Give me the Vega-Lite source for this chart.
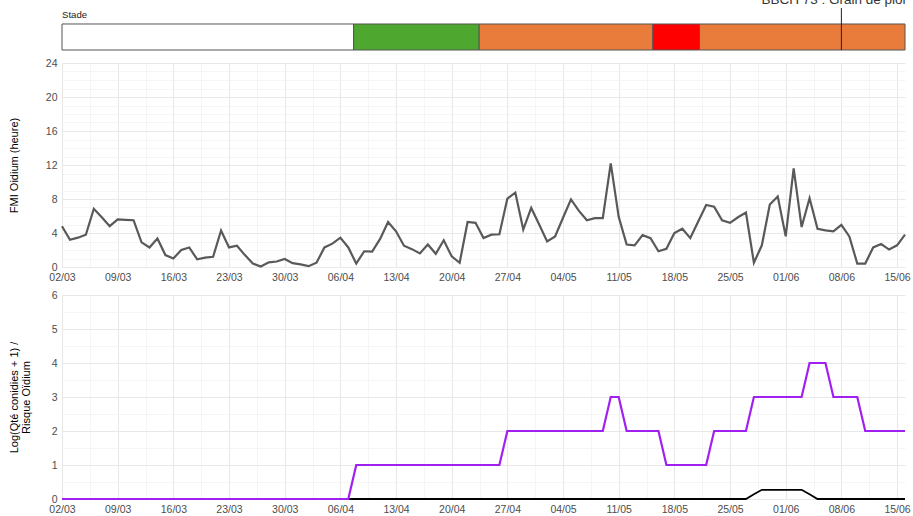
{
  "$schema": "https://vega.github.io/schema/vega-lite/v6.json",
  "padding": {"left": 8, "top": 0, "right": 2, "bottom": 3},
  "autosize": {"type": "pad"},
  "spacing": 7,
  "config": {
    "font": "Liberation Sans",
    "view": {"stroke": null},
    "axis": {
      "domain": false,
      "ticks": false,
      "labelFont": "Liberation Sans",
      "labelFontSize": 10.5,
      "labelColor": "#4D4D4D",
      "labelFlush": false,
      "labelOverlap": false,
      "labelBound": false,
      "labelPadding": 5,
      "titleFont": "Liberation Sans",
      "titleFontWeight": "normal",
      "titleColor": "#000000"
    }
  },
  "datasets": {
    "jours": [
      {"date": "2023-03-02", "fmi": 4.8, "risque": 0, "conidies": 0},
      {"date": "2023-03-03", "fmi": 3.2, "risque": 0, "conidies": 0},
      {"date": "2023-03-04", "fmi": 3.45, "risque": 0, "conidies": 0},
      {"date": "2023-03-05", "fmi": 3.8, "risque": 0, "conidies": 0},
      {"date": "2023-03-06", "fmi": 6.85, "risque": 0, "conidies": 0},
      {"date": "2023-03-07", "fmi": 5.85, "risque": 0, "conidies": 0},
      {"date": "2023-03-08", "fmi": 4.8, "risque": 0, "conidies": 0},
      {"date": "2023-03-09", "fmi": 5.6, "risque": 0, "conidies": 0},
      {"date": "2023-03-10", "fmi": 5.55, "risque": 0, "conidies": 0},
      {"date": "2023-03-11", "fmi": 5.5, "risque": 0, "conidies": 0},
      {"date": "2023-03-12", "fmi": 2.9, "risque": 0, "conidies": 0},
      {"date": "2023-03-13", "fmi": 2.3, "risque": 0, "conidies": 0},
      {"date": "2023-03-14", "fmi": 3.35, "risque": 0, "conidies": 0},
      {"date": "2023-03-15", "fmi": 1.4, "risque": 0, "conidies": 0},
      {"date": "2023-03-16", "fmi": 1.0, "risque": 0, "conidies": 0},
      {"date": "2023-03-17", "fmi": 2.0, "risque": 0, "conidies": 0},
      {"date": "2023-03-18", "fmi": 2.3, "risque": 0, "conidies": 0},
      {"date": "2023-03-19", "fmi": 0.9, "risque": 0, "conidies": 0},
      {"date": "2023-03-20", "fmi": 1.1, "risque": 0, "conidies": 0},
      {"date": "2023-03-21", "fmi": 1.2, "risque": 0, "conidies": 0},
      {"date": "2023-03-22", "fmi": 4.3, "risque": 0, "conidies": 0},
      {"date": "2023-03-23", "fmi": 2.3, "risque": 0, "conidies": 0},
      {"date": "2023-03-24", "fmi": 2.5, "risque": 0, "conidies": 0},
      {"date": "2023-03-25", "fmi": 1.4, "risque": 0, "conidies": 0},
      {"date": "2023-03-26", "fmi": 0.4, "risque": 0, "conidies": 0},
      {"date": "2023-03-27", "fmi": 0.05, "risque": 0, "conidies": 0},
      {"date": "2023-03-28", "fmi": 0.55, "risque": 0, "conidies": 0},
      {"date": "2023-03-29", "fmi": 0.65, "risque": 0, "conidies": 0},
      {"date": "2023-03-30", "fmi": 0.95, "risque": 0, "conidies": 0},
      {"date": "2023-03-31", "fmi": 0.45, "risque": 0, "conidies": 0},
      {"date": "2023-04-01", "fmi": 0.3, "risque": 0, "conidies": 0},
      {"date": "2023-04-02", "fmi": 0.1, "risque": 0, "conidies": 0},
      {"date": "2023-04-03", "fmi": 0.5, "risque": 0, "conidies": 0},
      {"date": "2023-04-04", "fmi": 2.3, "risque": 0, "conidies": 0},
      {"date": "2023-04-05", "fmi": 2.75, "risque": 0, "conidies": 0},
      {"date": "2023-04-06", "fmi": 3.45, "risque": 0, "conidies": 0},
      {"date": "2023-04-07", "fmi": 2.3, "risque": 0, "conidies": 0},
      {"date": "2023-04-08", "fmi": 0.4, "risque": 1, "conidies": 0},
      {"date": "2023-04-09", "fmi": 1.85, "risque": 1, "conidies": 0},
      {"date": "2023-04-10", "fmi": 1.8, "risque": 1, "conidies": 0},
      {"date": "2023-04-11", "fmi": 3.3, "risque": 1, "conidies": 0},
      {"date": "2023-04-12", "fmi": 5.3, "risque": 1, "conidies": 0},
      {"date": "2023-04-13", "fmi": 4.2, "risque": 1, "conidies": 0},
      {"date": "2023-04-14", "fmi": 2.5, "risque": 1, "conidies": 0},
      {"date": "2023-04-15", "fmi": 2.1, "risque": 1, "conidies": 0},
      {"date": "2023-04-16", "fmi": 1.6, "risque": 1, "conidies": 0},
      {"date": "2023-04-17", "fmi": 2.65, "risque": 1, "conidies": 0},
      {"date": "2023-04-18", "fmi": 1.55, "risque": 1, "conidies": 0},
      {"date": "2023-04-19", "fmi": 3.15, "risque": 1, "conidies": 0},
      {"date": "2023-04-20", "fmi": 1.25, "risque": 1, "conidies": 0},
      {"date": "2023-04-21", "fmi": 0.5, "risque": 1, "conidies": 0},
      {"date": "2023-04-22", "fmi": 5.3, "risque": 1, "conidies": 0},
      {"date": "2023-04-23", "fmi": 5.2, "risque": 1, "conidies": 0},
      {"date": "2023-04-24", "fmi": 3.4, "risque": 1, "conidies": 0},
      {"date": "2023-04-25", "fmi": 3.8, "risque": 1, "conidies": 0},
      {"date": "2023-04-26", "fmi": 3.85, "risque": 1, "conidies": 0},
      {"date": "2023-04-27", "fmi": 8.05, "risque": 2, "conidies": 0},
      {"date": "2023-04-28", "fmi": 8.75, "risque": 2, "conidies": 0},
      {"date": "2023-04-29", "fmi": 4.4, "risque": 2, "conidies": 0},
      {"date": "2023-04-30", "fmi": 6.95, "risque": 2, "conidies": 0},
      {"date": "2023-05-01", "fmi": 5.0, "risque": 2, "conidies": 0},
      {"date": "2023-05-02", "fmi": 3.0, "risque": 2, "conidies": 0},
      {"date": "2023-05-03", "fmi": 3.6, "risque": 2, "conidies": 0},
      {"date": "2023-05-04", "fmi": 5.8, "risque": 2, "conidies": 0},
      {"date": "2023-05-05", "fmi": 7.95, "risque": 2, "conidies": 0},
      {"date": "2023-05-06", "fmi": 6.6, "risque": 2, "conidies": 0},
      {"date": "2023-05-07", "fmi": 5.5, "risque": 2, "conidies": 0},
      {"date": "2023-05-08", "fmi": 5.75, "risque": 2, "conidies": 0},
      {"date": "2023-05-09", "fmi": 5.75, "risque": 2, "conidies": 0},
      {"date": "2023-05-10", "fmi": 12.2, "risque": 3, "conidies": 0},
      {"date": "2023-05-11", "fmi": 5.9, "risque": 3, "conidies": 0},
      {"date": "2023-05-12", "fmi": 2.65, "risque": 2, "conidies": 0},
      {"date": "2023-05-13", "fmi": 2.55, "risque": 2, "conidies": 0},
      {"date": "2023-05-14", "fmi": 3.75, "risque": 2, "conidies": 0},
      {"date": "2023-05-15", "fmi": 3.4, "risque": 2, "conidies": 0},
      {"date": "2023-05-16", "fmi": 1.85, "risque": 2, "conidies": 0},
      {"date": "2023-05-17", "fmi": 2.15, "risque": 1, "conidies": 0},
      {"date": "2023-05-18", "fmi": 4.0, "risque": 1, "conidies": 0},
      {"date": "2023-05-19", "fmi": 4.5, "risque": 1, "conidies": 0},
      {"date": "2023-05-20", "fmi": 3.4, "risque": 1, "conidies": 0},
      {"date": "2023-05-21", "fmi": 5.35, "risque": 1, "conidies": 0},
      {"date": "2023-05-22", "fmi": 7.3, "risque": 1, "conidies": 0},
      {"date": "2023-05-23", "fmi": 7.1, "risque": 2, "conidies": 0},
      {"date": "2023-05-24", "fmi": 5.5, "risque": 2, "conidies": 0},
      {"date": "2023-05-25", "fmi": 5.2, "risque": 2, "conidies": 0},
      {"date": "2023-05-26", "fmi": 5.85, "risque": 2, "conidies": 0},
      {"date": "2023-05-27", "fmi": 6.4, "risque": 2, "conidies": 0},
      {"date": "2023-05-28", "fmi": 0.5, "risque": 3, "conidies": 0.14},
      {"date": "2023-05-29", "fmi": 2.55, "risque": 3, "conidies": 0.27},
      {"date": "2023-05-30", "fmi": 7.35, "risque": 3, "conidies": 0.27},
      {"date": "2023-05-31", "fmi": 8.3, "risque": 3, "conidies": 0.27},
      {"date": "2023-06-01", "fmi": 3.6, "risque": 3, "conidies": 0.27},
      {"date": "2023-06-02", "fmi": 11.6, "risque": 3, "conidies": 0.27},
      {"date": "2023-06-03", "fmi": 4.7, "risque": 3, "conidies": 0.27},
      {"date": "2023-06-04", "fmi": 8.1, "risque": 4, "conidies": 0.14},
      {"date": "2023-06-05", "fmi": 4.5, "risque": 4, "conidies": 0},
      {"date": "2023-06-06", "fmi": 4.3, "risque": 4, "conidies": 0},
      {"date": "2023-06-07", "fmi": 4.2, "risque": 3, "conidies": 0},
      {"date": "2023-06-08", "fmi": 4.95, "risque": 3, "conidies": 0},
      {"date": "2023-06-09", "fmi": 3.6, "risque": 3, "conidies": 0},
      {"date": "2023-06-10", "fmi": 0.4, "risque": 3, "conidies": 0},
      {"date": "2023-06-11", "fmi": 0.4, "risque": 2, "conidies": 0},
      {"date": "2023-06-12", "fmi": 2.3, "risque": 2, "conidies": 0},
      {"date": "2023-06-13", "fmi": 2.7, "risque": 2, "conidies": 0},
      {"date": "2023-06-14", "fmi": 2.05, "risque": 2, "conidies": 0},
      {"date": "2023-06-15", "fmi": 2.55, "risque": 2, "conidies": 0},
      {"date": "2023-06-16", "fmi": 3.8, "risque": 2, "conidies": 0}
    ],
    "stades": [
      {"debut": "2023-03-02T00:00:00Z", "fin": "2023-04-07T16:00:00Z", "niveau": "aucun"},
      {"debut": "2023-04-07T16:00:00Z", "fin": "2023-04-23T11:00:00Z", "niveau": "faible"},
      {"debut": "2023-04-23T11:00:00Z", "fin": "2023-05-15T07:00:00Z", "niveau": "moyen"},
      {"debut": "2023-05-15T07:00:00Z", "fin": "2023-05-21T04:00:00Z", "niveau": "fort"},
      {"debut": "2023-05-21T04:00:00Z", "fin": "2023-06-16T00:00:00Z", "niveau": "moyen"}
    ],
    "annot": [
      {"date": "2023-06-08", "label": "BBCH 73 : Grain de plomb"}
    ],
    "titre": [
      {"date": "2023-03-02", "label": "Stade"}
    ]
  },
  "vconcat": [
    {
      "width": 843,
      "height": 50,
      "layer": [
        {
          "data": {"name": "stades"},
          "mark": {"type": "rect", "stroke": "#555555", "strokeWidth": 1},
          "encoding": {
            "x": {
              "field": "debut", "type": "temporal",
              "scale": {"type": "utc", "nice": false, "domain": [{"year": 2023, "month": 3, "date": 2, "utc": true}, {"year": 2023, "month": 6, "date": 16, "utc": true}]},
              "axis": null
            },
            "x2": {"field": "fin"},
            "y": {"datum": 0, "type": "quantitative", "scale": {"domain": [0, 1.923], "nice": false}, "axis": null},
            "y2": {"datum": 1},
            "fill": {
              "field": "niveau", "type": "nominal",
              "scale": {"domain": ["aucun", "faible", "moyen", "fort"], "range": ["#FFFFFF", "#4EA72E", "#E97C3A", "#FF0000"]},
              "legend": null
            }
          }
        },
        {
          "data": {"name": "annot"},
          "mark": {"type": "rule", "color": "#222222", "strokeWidth": 1},
          "encoding": {
            "x": {"field": "date", "type": "temporal"},
            "y": {"datum": 0, "type": "quantitative"},
            "y2": {"datum": 1.615}
          }
        },
        {
          "data": {"name": "annot"},
          "mark": {"type": "text", "clip": true, "fontSize": 13.5, "align": "center", "baseline": "alphabetic", "color": "#333333", "font": "Liberation Sans"},
          "encoding": {
            "x": {"field": "date", "type": "temporal"},
            "y": {"datum": 1.77, "type": "quantitative"},
            "text": {"field": "label"}
          }
        },
        {
          "data": {"name": "titre"},
          "mark": {"type": "text", "fontSize": 9.6, "align": "left", "baseline": "middle", "color": "#1A1A1A", "font": "Liberation Sans"},
          "encoding": {
            "x": {"field": "date", "type": "temporal"},
            "y": {"datum": 1.346, "type": "quantitative"},
            "text": {"field": "label"}
          }
        }
      ]
    },
    {
      "width": 843,
      "height": 204,
      "data": {"name": "jours"},
      "mark": {"type": "line", "color": "#595959", "strokeWidth": 2.2},
      "encoding": {
        "x": {
          "field": "date", "type": "temporal",
          "scale": {"type": "utc", "nice": false, "domain": [{"year": 2023, "month": 3, "date": 2, "utc": true}, {"year": 2023, "month": 6, "date": 16, "utc": true}]},
          "axis": {
            "title": null,
            "labelExpr": "utchours(datum.value) === 12 ? '' : utcFormat(datum.value, '%d/%m')",
            "values": [
              {"year": 2023, "month": 3, "date": 2, "utc": true}, {"year": 2023, "month": 3, "date": 5, "hours": 12, "utc": true},
              {"year": 2023, "month": 3, "date": 9, "utc": true}, {"year": 2023, "month": 3, "date": 12, "hours": 12, "utc": true},
              {"year": 2023, "month": 3, "date": 16, "utc": true}, {"year": 2023, "month": 3, "date": 19, "hours": 12, "utc": true},
              {"year": 2023, "month": 3, "date": 23, "utc": true}, {"year": 2023, "month": 3, "date": 26, "hours": 12, "utc": true},
              {"year": 2023, "month": 3, "date": 30, "utc": true}, {"year": 2023, "month": 4, "date": 2, "hours": 12, "utc": true},
              {"year": 2023, "month": 4, "date": 6, "utc": true}, {"year": 2023, "month": 4, "date": 9, "hours": 12, "utc": true},
              {"year": 2023, "month": 4, "date": 13, "utc": true}, {"year": 2023, "month": 4, "date": 16, "hours": 12, "utc": true},
              {"year": 2023, "month": 4, "date": 20, "utc": true}, {"year": 2023, "month": 4, "date": 23, "hours": 12, "utc": true},
              {"year": 2023, "month": 4, "date": 27, "utc": true}, {"year": 2023, "month": 4, "date": 30, "hours": 12, "utc": true},
              {"year": 2023, "month": 5, "date": 4, "utc": true}, {"year": 2023, "month": 5, "date": 7, "hours": 12, "utc": true},
              {"year": 2023, "month": 5, "date": 11, "utc": true}, {"year": 2023, "month": 5, "date": 14, "hours": 12, "utc": true},
              {"year": 2023, "month": 5, "date": 18, "utc": true}, {"year": 2023, "month": 5, "date": 21, "hours": 12, "utc": true},
              {"year": 2023, "month": 5, "date": 25, "utc": true}, {"year": 2023, "month": 5, "date": 28, "hours": 12, "utc": true},
              {"year": 2023, "month": 6, "date": 1, "utc": true}, {"year": 2023, "month": 6, "date": 4, "hours": 12, "utc": true},
              {"year": 2023, "month": 6, "date": 8, "utc": true}, {"year": 2023, "month": 6, "date": 11, "hours": 12, "utc": true},
              {"year": 2023, "month": 6, "date": 15, "utc": true}
            ],
            "gridColor": {"condition": {"test": "utchours(datum.value) === 12", "value": "#F2F2F2"}, "value": "#E8E8E8"},
            "gridWidth": {"condition": {"test": "utchours(datum.value) === 12", "value": 0.8}, "value": 1.1}
          }
        },
        "y": {
          "field": "fmi", "type": "quantitative",
          "scale": {"domain": [0, 24], "nice": false},
          "axis": {
            "title": "FMI Oidium (heure)",
            "titleFontSize": 11,
            "titlePadding": 23,
            "minExtent": 20, "maxExtent": 20,
            "values": [0, 1, 2, 3, 4, 5, 6, 7, 8, 9, 10, 11, 12, 13, 14, 15, 16, 17, 18, 19, 20, 21, 22, 23, 24],
            "labelExpr": "datum.value % 4 === 0 ? format(datum.value, 'd') : ''",
            "gridColor": {"condition": {"test": "datum.value % 4 === 0", "value": "#E8E8E8"}, "value": "#F2F2F2"},
            "gridWidth": {"condition": {"test": "datum.value % 4 === 0", "value": 1.1}, "value": 0.8}
          }
        }
      }
    },
    {
      "width": 843,
      "height": 204,
      "data": {"name": "jours"},
      "encoding": {
        "x": {
          "field": "date", "type": "temporal",
          "scale": {"type": "utc", "nice": false, "domain": [{"year": 2023, "month": 3, "date": 2, "utc": true}, {"year": 2023, "month": 6, "date": 16, "utc": true}]},
          "axis": {
            "title": null,
            "labelExpr": "utchours(datum.value) === 12 ? '' : utcFormat(datum.value, '%d/%m')",
            "values": [
              {"year": 2023, "month": 3, "date": 2, "utc": true}, {"year": 2023, "month": 3, "date": 5, "hours": 12, "utc": true},
              {"year": 2023, "month": 3, "date": 9, "utc": true}, {"year": 2023, "month": 3, "date": 12, "hours": 12, "utc": true},
              {"year": 2023, "month": 3, "date": 16, "utc": true}, {"year": 2023, "month": 3, "date": 19, "hours": 12, "utc": true},
              {"year": 2023, "month": 3, "date": 23, "utc": true}, {"year": 2023, "month": 3, "date": 26, "hours": 12, "utc": true},
              {"year": 2023, "month": 3, "date": 30, "utc": true}, {"year": 2023, "month": 4, "date": 2, "hours": 12, "utc": true},
              {"year": 2023, "month": 4, "date": 6, "utc": true}, {"year": 2023, "month": 4, "date": 9, "hours": 12, "utc": true},
              {"year": 2023, "month": 4, "date": 13, "utc": true}, {"year": 2023, "month": 4, "date": 16, "hours": 12, "utc": true},
              {"year": 2023, "month": 4, "date": 20, "utc": true}, {"year": 2023, "month": 4, "date": 23, "hours": 12, "utc": true},
              {"year": 2023, "month": 4, "date": 27, "utc": true}, {"year": 2023, "month": 4, "date": 30, "hours": 12, "utc": true},
              {"year": 2023, "month": 5, "date": 4, "utc": true}, {"year": 2023, "month": 5, "date": 7, "hours": 12, "utc": true},
              {"year": 2023, "month": 5, "date": 11, "utc": true}, {"year": 2023, "month": 5, "date": 14, "hours": 12, "utc": true},
              {"year": 2023, "month": 5, "date": 18, "utc": true}, {"year": 2023, "month": 5, "date": 21, "hours": 12, "utc": true},
              {"year": 2023, "month": 5, "date": 25, "utc": true}, {"year": 2023, "month": 5, "date": 28, "hours": 12, "utc": true},
              {"year": 2023, "month": 6, "date": 1, "utc": true}, {"year": 2023, "month": 6, "date": 4, "hours": 12, "utc": true},
              {"year": 2023, "month": 6, "date": 8, "utc": true}, {"year": 2023, "month": 6, "date": 11, "hours": 12, "utc": true},
              {"year": 2023, "month": 6, "date": 15, "utc": true}
            ],
            "gridColor": {"condition": {"test": "utchours(datum.value) === 12", "value": "#F2F2F2"}, "value": "#E8E8E8"},
            "gridWidth": {"condition": {"test": "utchours(datum.value) === 12", "value": 0.8}, "value": 1.1}
          }
        },
        "y": {
          "type": "quantitative",
          "scale": {"domain": [0, 6], "nice": false},
          "axis": {
            "title": ["Log(Qté conidies + 1) /", "Risque Oïdium"],
            "titleFontSize": 11,
            "titleLineHeight": 12,
            "titlePadding": 11,
            "minExtent": 20, "maxExtent": 20,
            "values": [0, 0.5, 1, 1.5, 2, 2.5, 3, 3.5, 4, 4.5, 5, 5.5, 6],
            "labelExpr": "datum.value % 1 === 0 ? format(datum.value, 'd') : ''",
            "gridColor": {"condition": {"test": "datum.value % 1 === 0", "value": "#E8E8E8"}, "value": "#F2F2F2"},
            "gridWidth": {"condition": {"test": "datum.value % 1 === 0", "value": 1.1}, "value": 0.8}
          }
        }
      },
      "layer": [
        {
          "mark": {"type": "line", "color": "#000000", "strokeWidth": 1.8},
          "encoding": {"y": {"field": "conidies"}}
        },
        {
          "mark": {"type": "line", "color": "#A020F0", "strokeWidth": 2.2},
          "encoding": {"y": {"field": "risque"}}
        }
      ]
    }
  ]
}
